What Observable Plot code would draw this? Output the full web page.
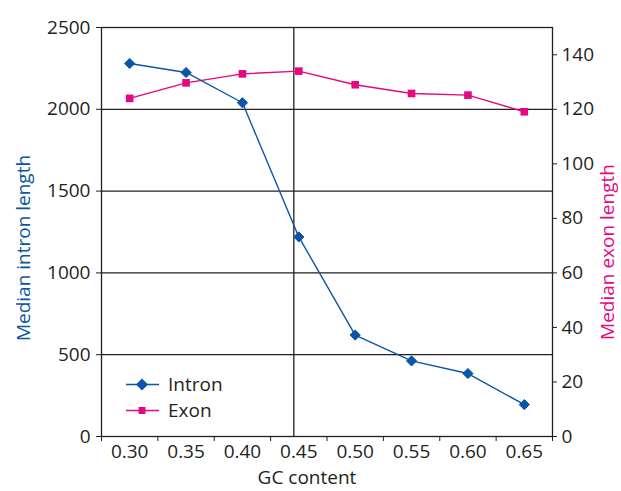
<!DOCTYPE html>
<html><head><meta charset="utf-8">
<script src="https://cdn.jsdelivr.net/npm/d3@7"></script>
<script src="https://cdn.jsdelivr.net/npm/@observablehq/plot@0.6"></script>
<style>
body{margin:0;background:#fff;}
#wrap{position:relative;width:621px;height:491px;font-family:"Open Sans",sans-serif;color:#231f20;}
.legend{position:absolute;left:126px;top:371px;font-size:19px;line-height:26px;}
.legend div{display:flex;align-items:center;height:26px;}
.legend svg{margin-right:9px;}
</style>
</head><body>
<div id="wrap"></div>
<script>
const gc = [0.30, 0.35, 0.40, 0.45, 0.50, 0.55, 0.60, 0.65];
const intron = [2280, 2225, 2040, 1220, 620, 462, 385, 195];
const exon = [124, 129.7, 133, 134, 129, 125.8, 125.2, 119.1];
const intronTicks = [0, 500, 1000, 1500, 2000, 2500];
const exonTicks = [0, 20, 40, 60, 80, 100, 120, 140];
const intronMax = 2500, exonMax = 150;
const blue = "#0a55a5", pink = "#e5087e", ink = "#231f20";

const k = intronMax / exonMax;
const step = gc[1] - gc[0];
const bounds = [gc[0] - step / 2, ...gc.map(g => g + step / 2)];
const rows = gc.map((g, i) => ({gc: g, intron: intron[i], exon: exon[i] * k}));

const chart = Plot.plot({
  width: 621, height: 491,
  marginLeft: 101, marginRight: 69, marginTop: 27, marginBottom: 55,
  style: {fontSize: "19px", fontFamily: "'Open Sans', sans-serif", color: ink, background: "#fff"},
  x: {domain: [bounds[0], bounds[bounds.length - 1]], axis: null},
  y: {domain: [0, intronMax], axis: null},
  marks: [
    Plot.ruleY(intronTicks.slice(1, -1), {stroke: ink, strokeWidth: 1.3}),
    Plot.ruleX([gc[3]], {stroke: ink, strokeWidth: 1.3, dx: -5}),
    Plot.frame({stroke: ink, strokeWidth: 1.3}),
    Plot.axisY(intronTicks, {anchor: "left", tickSize: 5, tickPadding: 6, label: null, tickFormat: d => String(d)}),
    Plot.axisY(exonTicks.map(v => v * k), {anchor: "right", tickSize: 4, tickPadding: 5, label: null, tickFormat: d => String(Math.round(d / k))}),
    Plot.axisX(bounds, {tickSize: 5, tickFormat: () => "", label: null}),
    Plot.axisX(gc, {tickSize: 0, tickPadding: 8, tickFormat: d3.format(".2f"), label: null}),
    Plot.line(rows, {x: "gc", y: "exon", stroke: pink, strokeWidth: 1.4}),
    Plot.dot(rows, {x: "gc", y: "exon", symbol: "square", fill: pink, r: 4.3}),
    Plot.line(rows, {x: "gc", y: "intron", stroke: blue, strokeWidth: 1.4}),
    Plot.dot(rows, {x: "gc", y: "intron", symbol: "diamond2", fill: blue, stroke: blue, strokeWidth: 1, r: 4.6}),
    Plot.text(["Median intron length"], {frameAnchor: "left", textAnchor: "middle", rotate: -90, dx: -78, dy: 16, fill: blue, fontSize: 19}),
    Plot.text(["Median exon length"], {frameAnchor: "right", textAnchor: "middle", rotate: -90, dx: 55, dy: 20, fill: pink, fontSize: 19}),
    Plot.text(["GC content"], {frameAnchor: "bottom", dx: -20, dy: 47, fill: ink, fontSize: 19})
  ]
});
const wrap = document.getElementById("wrap");
wrap.appendChild(chart);

const legend = document.createElement("div");
legend.className = "legend";
const items = [
  {name: "Intron", color: blue, shape: "diamond"},
  {name: "Exon", color: pink, shape: "square"}
];
for (const it of items) {
  const row = document.createElement("div");
  const marker = it.shape === "diamond"
    ? `<path d="M16,8.5 L22,14.5 L16,20.5 L10,14.5 Z" fill="${it.color}"/>`
    : `<rect x="12.5" y="11" width="7" height="7" fill="${it.color}"/>`;
  row.innerHTML = `<svg width="33" height="29"><line x1="0" x2="33" y1="14.5" y2="14.5" stroke="${it.color}" stroke-width="1.4"/>${marker}</svg><span>${it.name}</span>`;
  legend.appendChild(row);
}
wrap.appendChild(legend);
</script>
</body></html>
